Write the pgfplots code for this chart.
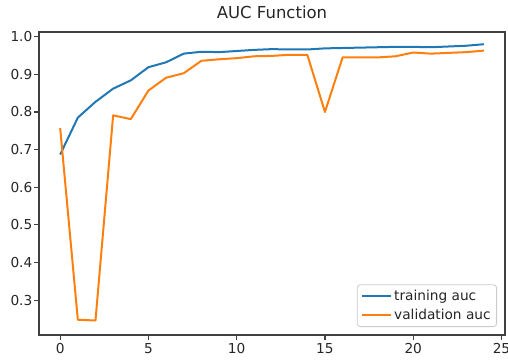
\documentclass[border=0pt]{standalone}
\usepackage{pgfplots}
\pgfplotsset{compat=1.18}
\usepackage{fontspec}
\setmainfont{DejaVu Sans}
\definecolor{tabblue}{HTML}{1F77B4}
\definecolor{taborange}{HTML}{FF7F0E}
\definecolor{txt}{HTML}{262626}
\begin{document}
\begin{tikzpicture}
\useasboundingbox (0,0) rectangle (508pt,360pt);
\clip (0,0) rectangle (508pt,360pt);
\begin{axis}[
  at={(39pt,25pt)}, anchor=south west,
  scale only axis, width=466pt, height=303pt,
  xmin=-1.2, xmax=25.2, ymin=0.2075, ymax=1.0125,
  xtick={0,5,10,15,20,25},
  ytick={0.3,0.4,0.5,0.6,0.7,0.8,0.9,1.0},
  yticklabel style={inner xsep=1.5pt, /pgf/number format/fixed, /pgf/number format/fixed zerofill, /pgf/number format/precision=1},
  /pgf/number format/assume math mode=true,
  tick align=outside, xtick pos=bottom, ytick pos=left,
  major tick length=5pt,
  tick style={line width=1.1pt, black!75},
  axis line style={line width=1.1pt, black!75},
  ticklabel style={font=\fontsize{13.7}{16}\selectfont, text=txt},
  xticklabel style={inner ysep=3pt},
  title={AUC Function},
  title style={font=\fontsize{16.5}{19}\selectfont, text=txt, at={(0.5,1)}, anchor=base, yshift=7pt},
  legend style={at={(1,0)}, anchor=south east, xshift=-8pt, yshift=8pt,
    font=\fontsize{13.7}{16}\selectfont, text=txt, draw=black!20, line width=0.8pt,
    rounded corners=3pt, inner xsep=4pt, inner ysep=3.5pt, row sep=3pt,
    cells={anchor=west}, /tikz/every even column/.append style={column sep=9pt}},
  legend image code/.code={\draw[#1] (0pt,0pt) -- (29pt,0pt);},
  every axis plot/.append style={line width=2pt, line join=round},
]
\addplot[tabblue] coordinates {
(0,0.687) (1,0.785) (2,0.827) (3,0.862) (4,0.884) (5,0.919) (6,0.932) (7,0.955)
(8,0.960) (9,0.959) (10,0.962) (11,0.965) (12,0.967) (13,0.966) (14,0.966)
(15,0.969) (16,0.970) (17,0.971) (18,0.972) (19,0.973) (20,0.973) (21,0.972)
(22,0.974) (23,0.976) (24,0.980)};
\addlegendentry{training auc}
\addplot[taborange] coordinates {
(0,0.757) (1,0.248) (2,0.246) (3,0.791) (4,0.781) (5,0.857) (6,0.891) (7,0.903)
(8,0.936) (9,0.940) (10,0.943) (11,0.948) (12,0.949) (13,0.952) (14,0.952)
(15,0.800) (16,0.945) (17,0.945) (18,0.945) (19,0.948) (20,0.958) (21,0.955)
(22,0.957) (23,0.959) (24,0.963)};
\addlegendentry{validation auc}
\end{axis}
\end{tikzpicture}
\end{document}
